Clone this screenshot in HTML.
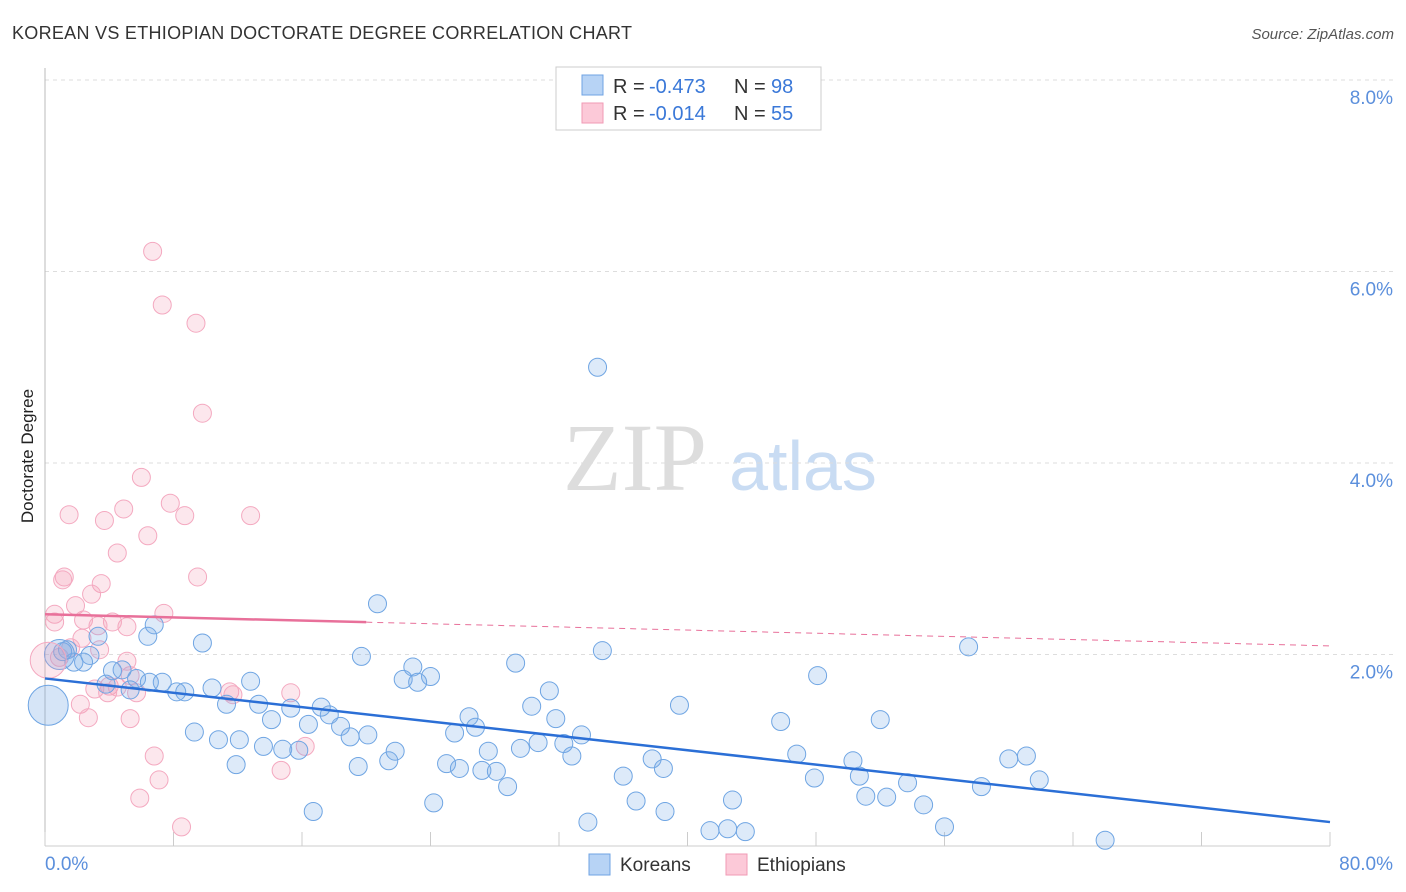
<!DOCTYPE html>
<html><head><meta charset="utf-8"><style>
body{margin:0;background:#fff;font-family:"Liberation Sans",sans-serif}
svg{display:block}
</style></head><body>
<svg id="chart" width="1406" height="892">
<text x="12" y="39" font-size="18" fill="#333" textLength="620">KOREAN VS ETHIOPIAN DOCTORATE DEGREE CORRELATION CHART</text>
<text x="1394" y="39" font-size="15" fill="#555" text-anchor="end" font-style="italic">Source: ZipAtlas.com</text>
<text x="635" y="490" font-size="96" fill="#ddd" font-family="Liberation Serif,serif" text-anchor="middle">ZIP</text>
<text x="803" y="490" font-size="70" fill="#c9dcf3" text-anchor="middle">atlas</text>
<g id="grid"></g><g id="axes"></g><g id="pts"></g><g id="lines"></g>
<text transform="translate(33,456) rotate(-90)" font-size="17" fill="#222" text-anchor="middle">Doctorate Degree</text>
<g>
<rect x="556" y="67" width="265" height="63" fill="#fff" stroke="#ccc"/>
<rect x="582" y="75" width="21" height="20" fill="#b7d3f5" stroke="#6fa3e3"/>
<rect x="582" y="103" width="21" height="20" fill="#fcc9d8" stroke="#f09ab5"/>
<text x="613" y="93" font-size="20" fill="#333">R =</text>
<text x="649" y="93" font-size="20" fill="#3a78d8">-0.473</text>
<text x="734" y="93" font-size="20" fill="#333">N =</text>
<text x="771" y="93" font-size="20" fill="#3a78d8">98</text>
<text x="613" y="120" font-size="20" fill="#333">R =</text>
<text x="649" y="120" font-size="20" fill="#3a78d8">-0.014</text>
<text x="734" y="120" font-size="20" fill="#333">N =</text>
<text x="771" y="120" font-size="20" fill="#3a78d8">55</text>
</g>
<g>
<rect x="589" y="854" width="21" height="21" fill="#b7d3f5" stroke="#6fa3e3"/>
<text x="620" y="871" font-size="19" fill="#333">Koreans</text>
<rect x="726" y="854" width="21" height="21" fill="#fcc9d8" stroke="#f09ab5"/>
<text x="757" y="871" font-size="19" fill="#333">Ethiopians</text>
</g>
</svg>
<script>
const yTicks=[2,4,6,8];
const xTickLabels=["0.0%","80.0%"];
const koreanX=[34.4,20.7,57.5,34.7,19.7,29.3,48.1,22.9,22.3,24.0,23.2,31.4,39.5,30.3,31.8,52.0,45.8,26.4,26.8,33.4,25.5,27.6,29.6,30.7,32.3,32.8,37.8,38.5,36.0,25.0,25.8,27.2,28.1,28.8,24.2,16.7,19.5,21.4,21.8,20.1,19.0,18.4,17.7,16.4,17.2,15.3,14.1,13.3,11.3,10.4,8.7,12.8,13.6,14.8,15.8,12.1,10.8,11.9,9.3,8.2,7.3,6.5,5.7,5.3,4.8,4.2,3.8,3.3,2.8,2.4,1.8,1.4,1.1,6.4,6.8,9.8,46.8,50.3,47.9,50.7,51.1,52.4,53.7,54.7,56.0,58.3,60.0,61.1,61.9,66.0,43.6,42.5,41.4,42.8,36.8,38.6,33.8];
const koreanY=[5.00,2.53,2.08,2.04,1.98,1.91,1.78,1.87,1.74,1.77,1.71,1.62,1.47,1.46,1.33,1.32,1.30,1.35,1.24,1.16,1.18,0.99,1.02,1.08,1.07,0.94,0.91,0.81,0.73,0.86,0.81,0.79,0.78,0.62,0.45,0.36,0.83,0.89,0.99,1.16,1.14,1.25,1.37,1.27,1.45,1.44,1.32,1.48,1.48,1.65,1.61,1.72,1.04,1.01,1.00,1.11,1.11,0.85,1.19,1.61,1.71,1.71,1.75,1.63,1.84,1.83,1.69,2.19,1.99,1.92,1.92,2.05,2.03,2.19,2.31,2.12,0.96,0.89,0.71,0.73,0.52,0.51,0.66,0.43,0.20,0.62,0.91,0.94,0.69,0.06,0.15,0.18,0.16,0.48,0.47,0.36,0.25];
const koreanBigX=[0.2,0.9];
const koreanBigY=[1.47,2.00];
const koreanBigR=[20,15];
const ethX=[6.7,7.3,9.4,9.8,6.0,7.8,8.7,12.8,1.5,3.7,4.9,6.4,4.5,9.5,1.2,1.1,3.5,2.9,1.9,7.4,0.6,0.6,2.4,4.2,3.3,5.1,2.3,5.1,0.9,1.6,3.4,5.3,3.1,4.0,4.5,3.9,5.7,11.5,11.7,15.3,2.2,2.7,5.3,6.8,7.1,14.7,16.2,5.9,8.5];
const ethY=[6.21,5.65,5.46,4.52,3.85,3.58,3.45,3.45,3.46,3.40,3.52,3.24,3.06,2.81,2.81,2.78,2.74,2.63,2.51,2.43,2.42,2.34,2.36,2.34,2.30,2.29,2.17,1.93,1.97,2.07,2.05,1.78,1.64,1.67,1.66,1.60,1.60,1.61,1.58,1.60,1.48,1.34,1.33,0.94,0.69,0.79,1.04,0.50,0.20];
const ethBigX=[0.2];
const ethBigY=[1.94];
const ethBigR=[18];
const koreanTrend=[1.75,0.25];
const ethTrend=[2.42,2.09];
const ethSolidEnd=20;

const X=v=>45+v/80*1285, Y=v=>846-v/2*191.5;
const NS="http://www.w3.org/2000/svg";
function mk(t,p,a){const e=document.createElementNS(NS,t);for(const k in a)e.setAttribute(k,a[k]);p.appendChild(e);return e;}
const grid=document.getElementById('grid'),axes=document.getElementById('axes'),pts=document.getElementById('pts'),lines=document.getElementById('lines');
yTicks.forEach(t=>{
 const l=mk('line',grid,{x1:45,x2:1393,y1:Y(t),y2:Y(t),stroke:'#ddd','stroke-dasharray':'4,4'});
 
 
 const tx=mk('text',grid,{x:1393,y:Y(t)+24,'font-size':19,fill:'#5b8fdc','text-anchor':'end'});
 tx.textContent=t.toFixed(1)+'%';
 
 
});
mk('line',axes,{x1:45,x2:45,y1:68,y2:846,stroke:'#bbb'});
mk('line',axes,{x1:45,x2:1330,y1:846,y2:846,stroke:'#ccc'});
for(let i=0;i<=10;i++){mk('line',axes,{x1:X(i*8),x2:X(i*8),y1:832,y2:846,stroke:'#ccc'});}
const xl0=mk('text',axes,{x:45,y:870,'font-size':19,fill:'#5b8fdc'});xl0.textContent=xTickLabels[0];


const xl1=mk('text',axes,{x:1393,y:870,'font-size':19,fill:'#5b8fdc','text-anchor':'end'});xl1.textContent=xTickLabels[1];


function dots(xs,ys,r,fill,stroke,name){xs.forEach((x,i)=>{
 const c=mk('circle',pts,{cx:X(x),cy:Y(ys[i]),r:Array.isArray(r)?r[i]:r,fill:fill,stroke:stroke,'stroke-width':1});
 
 
});}
dots(ethX,ethY,9,'rgba(245,160,185,0.25)','#f4a9c0','ethiopian-point');
dots(koreanX,koreanY,9,'rgba(120,170,230,0.25)','#6fa5e3','korean-point');
dots(koreanBigX,koreanBigY,koreanBigR,'rgba(120,170,230,0.3)','#6fa5e3','korean-point');
dots(ethBigX,ethBigY,ethBigR,'rgba(245,160,185,0.25)','#f4a9c0','ethiopian-point');
const kl=mk('line',lines,{x1:X(0),y1:Y(koreanTrend[0]),x2:X(80),y2:Y(koreanTrend[1]),stroke:'#2b6fd6','stroke-width':2.5});


const ey=x=>ethTrend[0]+(ethTrend[1]-ethTrend[0])*x/80;
const el=mk('line',lines,{x1:X(0),y1:Y(ey(0)),x2:X(ethSolidEnd),y2:Y(ey(ethSolidEnd)),stroke:'#e8709a','stroke-width':2.5});


const ed=mk('line',lines,{x1:X(ethSolidEnd),y1:Y(ey(ethSolidEnd)),x2:X(80),y2:Y(ey(80)),stroke:'#e8709a','stroke-width':1,'stroke-dasharray':'6,5'});


</script>
</body></html>
